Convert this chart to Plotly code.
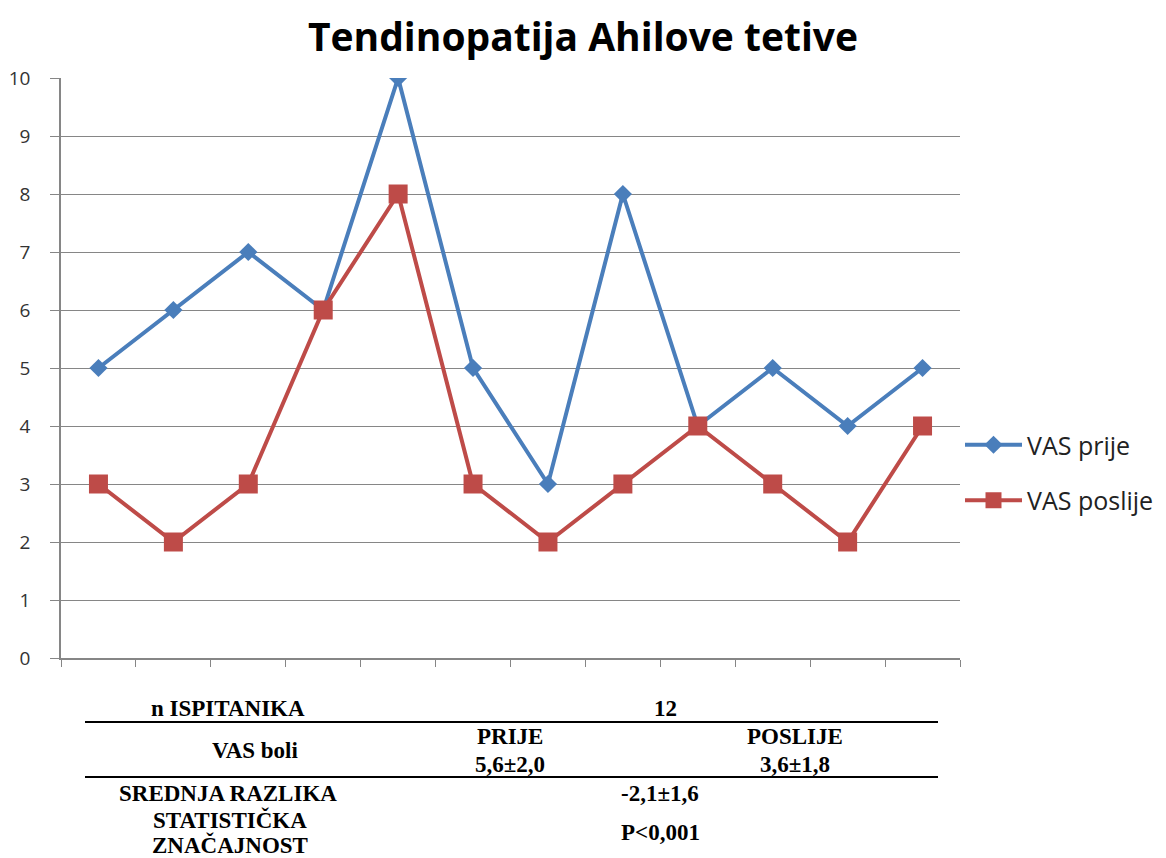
import plotly.graph_objects as go

categories = list(range(1, 13))
vas_prije = [5, 6, 7, 6, 10, 5, 3, 8, 4, 5, 4, 5]
vas_poslije = [3, 2, 3, 6, 8, 3, 2, 3, 4, 3, 2, 4]
y_ticks = list(range(0, 11))

W, H = 1166, 858
L, R, T, B = 61, 960, 78, 658

def px(x):
    return (x - L) / (R - L)

def py(y):
    return (B - y) / (B - T)

fig = go.Figure()
fig.add_trace(go.Scatter(
    x=categories, y=vas_prije, name="VAS prije", mode="lines+markers",
    line=dict(color="#4a7ebb", width=4),
    marker=dict(symbol="diamond", size=14, color="#4a7ebb"),
    legendgroup="a"))
fig.add_trace(go.Scatter(
    x=categories, y=vas_poslije, name="VAS poslije", mode="lines+markers",
    line=dict(color="#be4b48", width=4),
    marker=dict(symbol="square", size=19, color="#be4b48"),
    legendgroup="b"))

fig.update_layout(
    width=W, height=H,
    margin=dict(l=L, r=W - R, t=T, b=H - B, autoexpand=False),
    paper_bgcolor="white", plot_bgcolor="white",
    title=dict(text="<b>Tendinopatija Ahilove tetive</b>", x=0.5, xanchor="center",
               y=1 - 37 / H, yanchor="middle",
               font=dict(family="Open Sans", size=39, color="black")),
    showlegend=True,
    legend=dict(x=px(960), xanchor="left", y=py(422), yanchor="top",
                font=dict(family="Open Sans", size=25, color="#222"),
                tracegroupgap=20, itemwidth=57, bgcolor="rgba(0,0,0,0)"),
    xaxis=dict(range=[0.5, 12.5], tickvals=[i + 0.5 for i in range(0, 13)],
               ticktext=[""] * 13, ticks="outside", ticklen=7, tickcolor="#868686",
               showgrid=False, showline=True, linecolor="#868686", linewidth=1.5,
               zeroline=False, fixedrange=True),
    yaxis=dict(range=[0, 10], tickvals=y_ticks, ticks="outside", ticklen=9,
               tickcolor="#868686", showgrid=True, gridcolor="#868686", gridwidth=1,
               showline=True, linecolor="#868686", linewidth=1.5, zeroline=False,
               ticklabelstandoff=16,
               tickfont=dict(family="Open Sans", size=19, color="#333"),
               fixedrange=True),
)

tfont = dict(family="Liberation Serif", size=23, color="black")
table_text = [
    ("<b>n ISPITANIKA</b>", 228, 708),
    ("<b>12</b>", 665, 708),
    ("<b>VAS boli</b>", 255, 750),
    ("<b>PRIJE</b>", 510, 737),
    ("<b>5,6±2,0</b>", 510, 764),
    ("<b>POSLIJE</b>", 795, 737),
    ("<b>3,6±1,8</b>", 795, 764),
    ("<b>SREDNJA RAZLIKA</b>", 228, 793),
    ("<b>-2,1±1,6</b>", 660, 793),
    ("<b>STATISTIČKA</b>", 230, 820),
    ("<b>ZNAČAJNOST</b>", 230, 845),
    ("<b>P<0,001</b>", 660, 832),
]
for txt, x, y in table_text:
    fig.add_annotation(text=txt, x=px(x), y=py(y), xref="paper", yref="paper",
                       showarrow=False, xanchor="center", yanchor="middle", font=tfont)

for yy in (722, 777):
    fig.add_shape(type="line", xref="paper", yref="paper",
                  x0=px(85), x1=px(938), y0=py(yy), y1=py(yy),
                  line=dict(color="black", width=2))

fig.write_html("out.html", config={"displayModeBar": False},
               post_script="document.body.style.margin='0';")
